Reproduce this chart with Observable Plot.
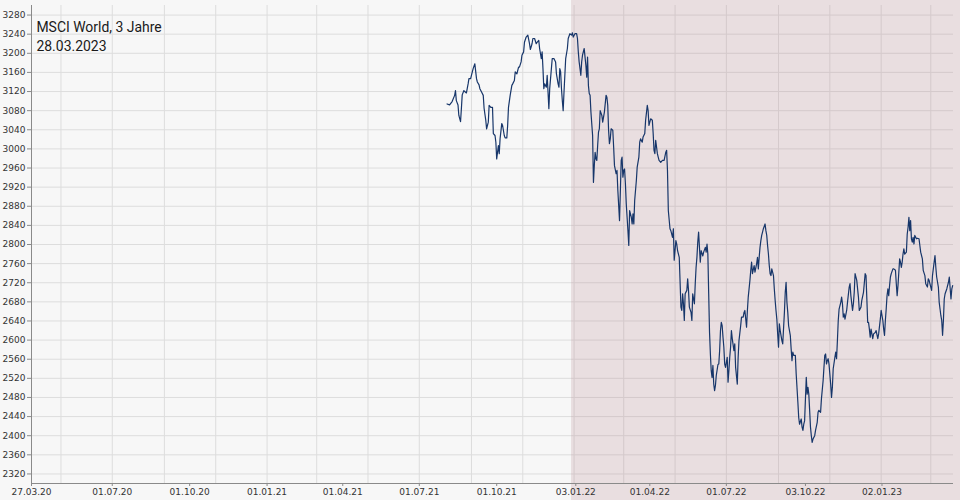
<!DOCTYPE html>
<html><head><meta charset="utf-8">
<script src="https://cdn.jsdelivr.net/npm/d3@7"></script>
<script src="https://cdn.jsdelivr.net/npm/@observablehq/plot@0.6"></script>
<style>
html,body{margin:0;padding:0;background:#f7f7f7;}
#chart svg{display:block;}
</style></head><body><div id="chart"></div>
<script>
const title = "MSCI World, 3 Jahre";
const asOf = "28.03.2023";
const xDomain = ["2020-03-27", "2023-03-28"];
const xTicks = ["2020-03-27","2020-07-01","2020-10-01","2021-01-01","2021-04-01","2021-07-01","2021-10-01","2022-01-03","2022-04-01","2022-07-01","2022-10-03","2023-01-02"];
const xGrid = ["2020-05-01","2020-07-01","2020-09-01","2020-11-01","2021-01-01","2021-03-01","2021-05-01","2021-07-01","2021-09-01","2021-11-01","2022-01-01","2022-03-01","2022-05-01","2022-07-01","2022-09-01","2022-11-01","2023-01-01","2023-03-01"];
const yDomain = [2300, 3300];
const yTicks = [2320,2360,2400,2440,2480,2520,2560,2600,2640,2680,2720,2760,2800,2840,2880,2920,2960,3000,3040,3080,3120,3160,3200,3240,3280];
const shadeStart = "2021-12-29";

const dates = [
"2021-08-03","2021-08-06","2021-08-09","2021-08-12","2021-08-13","2021-08-14","2021-08-16","2021-08-17","2021-08-19","2021-08-20","2021-08-21","2021-08-23","2021-08-24","2021-08-26","2021-08-28","2021-08-29","2021-08-31",
"2021-09-02","2021-09-03","2021-09-05","2021-09-07","2021-09-08","2021-09-10","2021-09-11","2021-09-13","2021-09-15","2021-09-16","2021-09-18","2021-09-19","2021-09-21","2021-09-22","2021-09-24","2021-09-26","2021-09-27","2021-09-29","2021-09-30",
"2021-10-01","2021-10-03","2021-10-04","2021-10-05","2021-10-07","2021-10-08","2021-10-10","2021-10-11","2021-10-13","2021-10-14","2021-10-15","2021-10-17","2021-10-19","2021-10-20","2021-10-22","2021-10-23","2021-10-25","2021-10-27","2021-10-28","2021-10-30","2021-10-31",
"2021-11-02","2021-11-03","2021-11-05","2021-11-07","2021-11-09","2021-11-10","2021-11-12","2021-11-13","2021-11-15","2021-11-17","2021-11-18","2021-11-20","2021-11-21","2021-11-23","2021-11-24","2021-11-25","2021-11-26","2021-11-27","2021-11-29","2021-11-30",
"2021-12-01","2021-12-02","2021-12-03","2021-12-05","2021-12-06","2021-12-08","2021-12-10","2021-12-11","2021-12-13","2021-12-14","2021-12-15","2021-12-16","2021-12-17","2021-12-18","2021-12-19","2021-12-20","2021-12-21","2021-12-22","2021-12-24","2021-12-25","2021-12-27","2021-12-29","2021-12-30","2021-12-31",
"2022-01-02","2022-01-04","2022-01-05","2022-01-06","2022-01-07","2022-01-09","2022-01-10","2022-01-11","2022-01-13","2022-01-14","2022-01-15","2022-01-16","2022-01-17","2022-01-18","2022-01-19","2022-01-20","2022-01-21","2022-01-23","2022-01-24","2022-01-25","2022-01-26","2022-01-27","2022-01-28","2022-01-29","2022-01-30","2022-01-31",
"2022-02-01","2022-02-03","2022-02-04","2022-02-06","2022-02-08","2022-02-09","2022-02-10","2022-02-11","2022-02-12","2022-02-13","2022-02-14","2022-02-16","2022-02-17","2022-02-18","2022-02-20","2022-02-21","2022-02-22","2022-02-24","2022-02-25","2022-02-26","2022-02-27","2022-02-28",
"2022-03-01","2022-03-02","2022-03-03","2022-03-04","2022-03-05","2022-03-06","2022-03-07","2022-03-08","2022-03-10","2022-03-11","2022-03-12","2022-03-13","2022-03-14","2022-03-16","2022-03-17","2022-03-19","2022-03-20","2022-03-21","2022-03-23","2022-03-24","2022-03-26","2022-03-27","2022-03-29","2022-03-30","2022-03-31",
"2022-04-02","2022-04-04","2022-04-05","2022-04-06","2022-04-07","2022-04-08","2022-04-10","2022-04-11","2022-04-12","2022-04-14","2022-04-16","2022-04-18","2022-04-20","2022-04-21","2022-04-22","2022-04-23","2022-04-25","2022-04-26","2022-04-28","2022-04-29","2022-04-30",
"2022-05-02","2022-05-03","2022-05-04","2022-05-06","2022-05-07","2022-05-08","2022-05-09","2022-05-10","2022-05-11","2022-05-12","2022-05-13","2022-05-15","2022-05-16","2022-05-17","2022-05-18","2022-05-20","2022-05-21","2022-05-22","2022-05-24","2022-05-25","2022-05-26","2022-05-27","2022-05-28","2022-05-29","2022-05-30","2022-05-31",
"2022-06-01","2022-06-03","2022-06-04","2022-06-06","2022-06-07","2022-06-08","2022-06-09","2022-06-10","2022-06-11","2022-06-12","2022-06-13","2022-06-14","2022-06-15","2022-06-16","2022-06-17","2022-06-18","2022-06-19","2022-06-21","2022-06-22","2022-06-23","2022-06-24","2022-06-25","2022-06-26","2022-06-27","2022-06-28","2022-06-29","2022-06-30",
"2022-07-02","2022-07-03","2022-07-04","2022-07-05","2022-07-06","2022-07-07","2022-07-08","2022-07-10","2022-07-11","2022-07-12","2022-07-14","2022-07-15","2022-07-16","2022-07-18","2022-07-19","2022-07-21","2022-07-22","2022-07-23","2022-07-25","2022-07-26","2022-07-27","2022-07-29","2022-07-30","2022-07-31",
"2022-08-01","2022-08-03","2022-08-04","2022-08-06","2022-08-07","2022-08-08","2022-08-09","2022-08-10","2022-08-11","2022-08-12","2022-08-13","2022-08-14","2022-08-16","2022-08-17","2022-08-18","2022-08-19","2022-08-20","2022-08-21","2022-08-22","2022-08-23","2022-08-24","2022-08-26","2022-08-27","2022-08-28","2022-08-29","2022-08-30","2022-08-31",
"2022-09-01","2022-09-02","2022-09-03","2022-09-05","2022-09-06","2022-09-08","2022-09-09","2022-09-10","2022-09-11","2022-09-12","2022-09-13","2022-09-15","2022-09-16","2022-09-17","2022-09-18","2022-09-19","2022-09-21","2022-09-22","2022-09-24","2022-09-25","2022-09-26","2022-09-28","2022-09-29","2022-09-30",
"2022-10-01","2022-10-02","2022-10-03","2022-10-04","2022-10-05","2022-10-06","2022-10-07","2022-10-08","2022-10-09","2022-10-10","2022-10-11","2022-10-12","2022-10-14","2022-10-15","2022-10-17","2022-10-18","2022-10-19","2022-10-21","2022-10-22","2022-10-24","2022-10-25","2022-10-26","2022-10-27","2022-10-28","2022-10-29","2022-10-30","2022-10-31",
"2022-11-02","2022-11-03","2022-11-04","2022-11-05","2022-11-07","2022-11-08","2022-11-09","2022-11-10","2022-11-11","2022-11-12","2022-11-14","2022-11-15","2022-11-16","2022-11-17","2022-11-18","2022-11-19","2022-11-21","2022-11-22","2022-11-24","2022-11-25","2022-11-26","2022-11-28","2022-11-29","2022-11-30",
"2022-12-01","2022-12-03","2022-12-05","2022-12-06","2022-12-08","2022-12-09","2022-12-11","2022-12-13","2022-12-14","2022-12-15","2022-12-16","2022-12-17","2022-12-18","2022-12-19","2022-12-20","2022-12-22","2022-12-23","2022-12-25","2022-12-26","2022-12-28","2022-12-29","2022-12-31",
"2023-01-01","2023-01-03","2023-01-04","2023-01-05","2023-01-06","2023-01-07","2023-01-08","2023-01-09","2023-01-10","2023-01-11","2023-01-12","2023-01-13","2023-01-15","2023-01-16","2023-01-18","2023-01-19","2023-01-20","2023-01-21","2023-01-22","2023-01-23","2023-01-24","2023-01-25","2023-01-26","2023-01-27","2023-01-28","2023-01-29","2023-01-31",
"2023-02-01","2023-02-02","2023-02-03","2023-02-04","2023-02-05","2023-02-06","2023-02-07","2023-02-08","2023-02-09","2023-02-10","2023-02-12","2023-02-13","2023-02-15","2023-02-16","2023-02-17","2023-02-19","2023-02-20","2023-02-22","2023-02-23","2023-02-25","2023-02-26","2023-02-27",
"2023-03-01","2023-03-02","2023-03-03","2023-03-05","2023-03-06","2023-03-07","2023-03-08","2023-03-10","2023-03-11","2023-03-12","2023-03-13","2023-03-14","2023-03-15","2023-03-16","2023-03-17","2023-03-18","2023-03-20","2023-03-22","2023-03-23","2023-03-25","2023-03-26","2023-03-27"
];
const values = [
3094,3092,3099,3112,3122,3101,3092,3070,3057,3084,3113,3122,3120,3117,3136,3147,3147,
3161,3168,3178,3147,3140,3134,3126,3119,3112,3085,3060,3042,3056,3091,3087,3087,3032,3028,3014,
2979,3007,2990,3021,3053,3049,3028,3023,3023,3049,3087,3112,3133,3136,3143,3161,3157,3171,3171,3182,3196,
3203,3223,3234,3238,3220,3208,3220,3231,3231,3220,3223,3227,3210,3189,3203,3168,3126,3136,3129,3154,
3119,3084,3126,3168,3189,3189,3182,3157,3136,3129,3168,3161,3126,3101,3080,3119,3154,3189,3210,3231,3241,3238,3243,3234,
3241,3241,3231,3203,3182,3154,3182,3196,3210,3192,3175,3150,3192,3133,3116,3112,3077,3028,2930,2965,2993,2979,2976,3007,3035,3042,
3080,3070,3056,3077,3112,3108,3091,3039,3011,3021,3042,3039,3004,2965,2948,2955,2913,2850,2913,2976,2983,2941,
2955,2958,2927,2885,2857,2829,2798,2871,2857,2843,2864,2843,2892,2934,2962,2983,3014,3021,3014,3025,3032,3060,3091,3080,3049,
3063,3060,3032,2997,2990,3018,2990,2983,2976,2972,2976,2976,2993,2997,2955,2871,2833,2829,2815,2833,2767,
2808,2801,2787,2773,2721,2669,2662,2697,2676,2641,2697,2704,2728,2704,2669,2658,2641,2697,2676,2718,2752,2773,2805,2826,2794,2763,
2787,2776,2784,2794,2784,2801,2780,2697,2616,2571,2536,2522,2547,2508,2494,2505,2526,2549,2550,2578,2620,2637,2630,2606,2585,2550,2543,
2564,2512,2536,2564,2585,2620,2603,2578,2592,2543,2508,2564,2599,2630,2648,2648,2658,2662,2627,2662,2690,2725,2746,2763,
2739,2756,2742,2760,2773,2749,2773,2794,2808,2819,2826,2833,2843,2829,2819,2798,2780,2756,2739,2735,2749,2735,2707,2683,2662,2644,2613,
2585,2634,2620,2599,2592,2658,2700,2721,2679,2658,2630,2610,2582,2557,2575,2568,2568,2529,2470,2438,2424,2435,2418,2411,
2424,2431,2477,2522,2487,2501,2487,2453,2418,2400,2386,2393,2400,2411,2428,2449,2453,2449,2477,2515,2543,2568,2571,2550,2557,2561,2550,
2508,2480,2501,2540,2564,2575,2561,2599,2641,2665,2679,2690,2676,2648,2655,2644,2662,2679,2711,2718,2693,2662,2676,2700,
2739,2725,2690,2662,2669,2683,2700,2739,2735,2686,2637,2637,2623,2606,2623,2603,2613,2616,2620,2603,2613,2644,
2662,2641,2623,2610,2641,2665,2693,2707,2693,2714,2732,2739,2749,2749,2746,2718,2693,2714,2742,2770,2763,2752,2763,2780,2791,2780,2784,
2822,2836,2857,2829,2850,2812,2805,2815,2801,2819,2812,2813,2812,2798,2784,2770,2746,2735,2718,2711,2728,2725,
2711,2704,2735,2763,2777,2752,2732,2711,2679,2665,2651,2641,2610,2641,2686,2697,2707,2721,2732,2686,2707,2714
];

const parse = s => new Date(s + "T00:00:00Z");
const data = dates.map((d, i) => ({date: parse(d), value: values[i]}));

const shade = (index, scales, channels, dim) => {
  const x0 = scales.x(parse(shadeStart));
  const r = document.createElementNS("http://www.w3.org/2000/svg", "rect");
  r.setAttribute("x", x0);
  r.setAttribute("y", 0);
  r.setAttribute("width", dim.width - x0);
  r.setAttribute("height", dim.height);
  r.setAttribute("fill", "rgb(186,140,146)");
  r.setAttribute("fill-opacity", 0.23);
  return r;
};

const chart = Plot.plot({
  width: 960,
  height: 500,
  marginLeft: 31,
  marginRight: 7,
  marginTop: 5,
  marginBottom: 17,
  style: {background: "#f7f7f7", fontFamily: "'DejaVu Sans', sans-serif", fontSize: "9px", color: "#333"},
  x: {type: "utc", domain: xDomain.map(parse), axis: null},
  y: {domain: yDomain, axis: null},
  marks: [
    Plot.ruleY(yTicks, {stroke: "#dddddd", strokeWidth: 1}),
    Plot.ruleX(xGrid.map(parse), {stroke: "#dddddd", strokeWidth: 1}),
    shade,
    Plot.ruleX([parse(xDomain[0])], {stroke: "#8a8a8a"}),
    Plot.ruleY([yDomain[0]], {stroke: "#8a8a8a"}),
    Plot.axisX({ticks: xTicks.map(parse), tickFormat: d3.utcFormat("%d.%m.%y"), tickSize: 3, tickPadding: 2, stroke: "#8a8a8a", fill: "#333", label: null}),
    Plot.axisY({ticks: yTicks, tickFormat: "d", tickSize: 4, tickPadding: 2, stroke: "#8a8a8a", fill: "#333", label: null}),
    Plot.line(data, {x: "date", y: "value", stroke: "#17366a", strokeWidth: 1.2}),
    Plot.text([title + "\n" + asOf], {frameAnchor: "top-left", dx: 5, dy: 13.3, fontSize: 15.5, fontFamily: "Roboto", fill: "#1a1a1a", lineHeight: 1.22, textAnchor: "start", ariaLabel: "title"})
  ]
});
// horizontally condense the title to mimic the condensed face of the original
const tg = chart.querySelector("g[aria-label='title']") || chart.querySelector("g[aria-label='text']");
if (tg) {
  const t = tg.getAttribute("transform") || "";
  tg.setAttribute("transform", "translate(36,0) scale(0.9,1) translate(-36,0) " + t);
}
document.getElementById("chart").append(chart);
</script>
</body></html>
